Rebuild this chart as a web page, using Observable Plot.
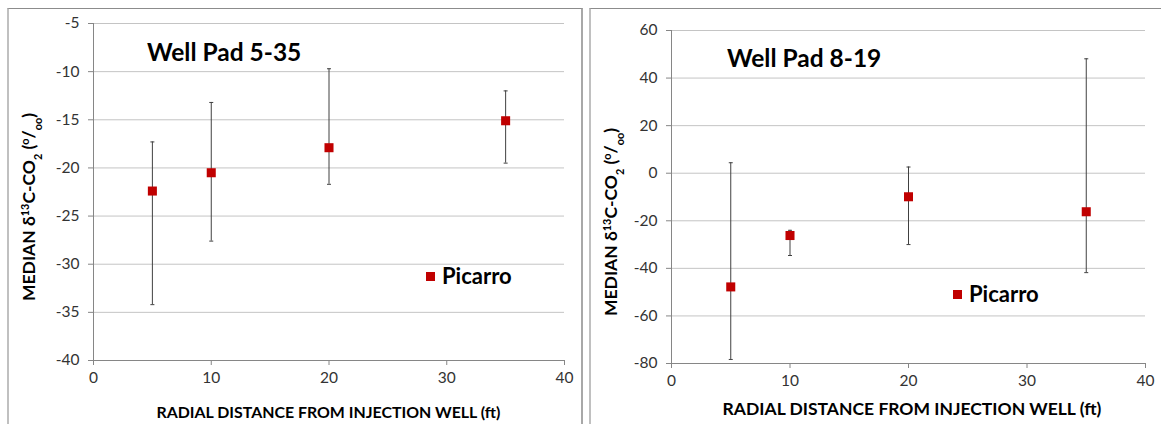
<!DOCTYPE html>
<html><head><meta charset="utf-8">
<script src="https://cdn.jsdelivr.net/npm/d3@7"></script>
<script src="https://cdn.jsdelivr.net/npm/@observablehq/plot@0.6"></script>
<style>
body{margin:0;background:#fff;font-family:Lato,"Open Sans",sans-serif;}
#wrap{position:relative;width:1161px;height:424px;overflow:hidden;background:#fff;}
.panel{position:absolute;top:8px;height:440px;box-sizing:border-box;border-top:1px solid #8c8c8c;border-left:2px solid #c0c0c0;border-right:2px solid #a8a8a8;}
.chart{position:absolute;top:8px;}
.title{position:absolute;font-weight:bold;font-size:24.5px;color:#000;white-space:nowrap;line-height:1;}
.legend{position:absolute;font-weight:bold;font-size:22px;color:#000;white-space:nowrap;line-height:1;display:flex;align-items:center;}
.legend .sw{display:inline-block;width:9px;height:9px;background:#c00000;margin-right:7px;}
</style>
</head><body>
<div id="wrap">
  <div class="panel" style="left:7px;width:576px;"></div>
  <div class="panel" style="left:589px;width:600px;"></div>
  <div id="c1" class="chart" style="left:7px;"></div>
  <div id="c2" class="chart" style="left:590px;"></div>
  <div class="title" style="left:147px;top:40px;">Well Pad 5-35</div>
  <div class="title" style="left:727px;top:46px;">Well Pad 8-19</div>
  <div class="legend" style="left:426px;top:265px;"><span class="sw"></span>Picarro</div>
  <div class="legend" style="left:953px;top:283px;"><span class="sw"></span>Picarro</div>
</div>
<script>
// ---- data ----
const distance = [5, 10, 20, 35];
const xTicks = [0, 10, 20, 30, 40];

const pad535Median = [-22.4, -20.5, -17.9, -15.1];
const pad535Low    = [-34.2, -27.6, -21.7, -19.5];
const pad535High   = [-17.3, -13.2, -9.7, -12.0];
const pad535Ticks  = [-40, -35, -30, -25, -20, -15, -10, -5];

const pad819Median = [-47.8, -26.2, -9.9, -16.2];
const pad819Low    = [-78.3, -34.6, -30.0, -41.8];
const pad819High   = [4.4, -24.0, 2.6, 48.1];
const pad819Ticks  = [-80, -60, -40, -20, 0, 20, 40, 60];

const xLabel = "RADIAL DISTANCE FROM INJECTION WELL (ft)";

const capSym = {draw(ctx, size){const r = Math.sqrt(size/Math.PI); ctx.moveTo(-r,0); ctx.lineTo(r,0);}};

function makeChart(el, cfg){
  const rows = distance.map((x,i)=>({x, m:cfg.med[i], lo:cfg.lo[i], hi:cfg.hi[i]}));
  const ymin = cfg.ticks[0], ymax = cfg.ticks[cfg.ticks.length-1];
  const plot = Plot.plot({
    width: cfg.width, height: 416,
    marginLeft: cfg.ml, marginRight: cfg.mr, marginTop: cfg.mt, marginBottom: cfg.mb,
    x: {domain: [0, 40]},
    y: {domain: [ymin, ymax]},
    style: {fontFamily: "Lato, 'Open Sans', sans-serif", fontSize: "15.5px", color: "#333", background: "transparent", overflow: "visible"},
    marks: [
      Plot.gridY(cfg.ticks.slice(1), {stroke: "#c4c4c4", strokeOpacity: 1}),
      Plot.ruleX([0], {stroke: "#868686"}),
      Plot.ruleY([ymin], {stroke: "#868686"}),
      Plot.axisX(xTicks, {tickSize: 5, tickPadding: 6, stroke: "#868686", fill: "#333", tickFormat: d => String(d), label: null}),
      Plot.axisY(cfg.ticks, {tickSize: 5, tickPadding: 9, stroke: "#868686", fill: "#333", tickFormat: d => String(d), label: null}),
      Plot.ruleX(rows, {x: "x", y1: "lo", y2: "hi", stroke: "#404040", strokeWidth: 1}),
      Plot.dot(rows, {x: "x", y: "lo", symbol: capSym, r: 2, fill: "none", stroke: "#404040", strokeWidth: 1}),
      Plot.dot(rows, {x: "x", y: "hi", symbol: capSym, r: 2, fill: "none", stroke: "#404040", strokeWidth: 1}),
      Plot.dot(rows, {x: "x", y: "m", symbol: "square", r: 5.1, fill: "#c00000", stroke: "none"})
    ]
  });
  const svg = d3.select(plot);
  const cx = (cfg.ml + cfg.width - cfg.mr) / 2;
  // x label
  svg.append("text")
    .attr("x", cx + cfg.xlDx).attr("y", cfg.xlY)
    .attr("text-anchor", "middle")
    .attr("font-weight", "bold").attr("font-size", cfg.xlSize).attr("fill", "#000")
    .text(xLabel);
  // y label
  const t = svg.append("text")
    .attr("transform", `translate(${cfg.ylX},${cfg.ylY}) rotate(-90)`)
    .attr("text-anchor", "middle")
    .attr("font-weight", "bold").attr("font-size", cfg.ylSize).attr("fill", "#000");
  t.append("tspan").text("MEDIAN δ");
  t.append("tspan").attr("baseline-shift", "super").attr("font-size", "62%").text("13");
  t.append("tspan").text("C-CO");
  t.append("tspan").attr("baseline-shift", "sub").attr("font-size", "62%").text("2");
  t.append("tspan").text(" (");
  t.append("tspan").attr("baseline-shift", "super").attr("font-size", "62%").text("o");
  t.append("tspan").text("/");
  t.append("tspan").attr("baseline-shift", "sub").attr("font-size", "62%").text("oo");
  t.append("tspan").text(")");
  document.getElementById(el).appendChild(plot);
}

makeChart("c1", {med: pad535Median, lo: pad535Low, hi: pad535High, ticks: pad535Ticks,
  width: 575, ml: 86, mr: 18, mt: 15, mb: 64,
  xlDx: 0, xlY: 410, xlSize: 15.9, ylX: 28, ylY: 199, ylSize: 17.5});
makeChart("c2", {med: pad819Median, lo: pad819Low, hi: pad819High, ticks: pad819Ticks,
  width: 571, ml: 81, mr: 16, mt: 22, mb: 61,
  xlDx: 4, xlY: 407, xlSize: 17.5, ylX: 27, ylY: 214, ylSize: 17.5});
</script>
</body></html>
